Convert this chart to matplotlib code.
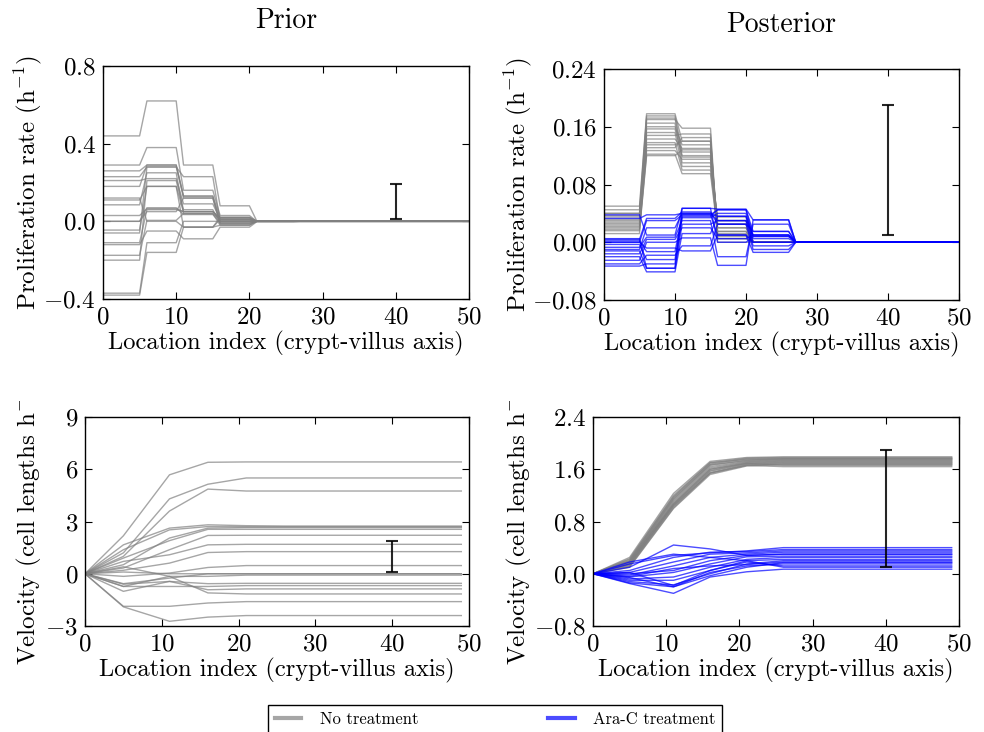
import numpy as np
import matplotlib.pyplot as plt
from matplotlib.lines import Line2D
from matplotlib.transforms import Bbox, TransformedBbox

plt.rcParams['font.family'] = 'serif'
plt.rcParams['font.serif'] = ['cmr10']
plt.rcParams['mathtext.fontset'] = 'cm'
plt.rcParams['axes.formatter.use_mathtext'] = True
plt.rcParams['axes.unicode_minus'] = True

# location index where the piecewise-constant proliferation blocks start / end
block_x = [0, 5, 6, 10, 11, 15, 16, 20, 21, 26, 27, 50]
# velocity knots along the axis
vel_x = [0, 5, 11, 16, 21, 26, 49]

# prior proliferation, one row = block values for one sample
prior_prolif = [
    [0.44, 0.62, 0.29, 0.08, 0.002],
    [0.29, 0.38, 0.16, 0.03, 0.0],
    [0.26, 0.29, 0.13, 0.02, 0.0],
    [0.23, 0.28, 0.23, 0.0, 0.001],
    [0.21, 0.22, 0.09, 0.01, 0.0],
    [0.18, 0.29, 0.12, -0.01, 0.0],
    [0.11, 0.18, 0.05, 0.02, 0.0],
    [0.085, 0.25, 0.04, -0.02, 0.0],
    [0.03, 0.065, 0.05, 0.015, 0.0],
    [0.0, 0.07, 0.035, -0.005, 0.0],
    [-0.045, 0.18, -0.03, -0.02, 0.0],
    [-0.11, 0.06, 0.05, 0.005, 0.0],
    [-0.12, -0.05, -0.09, -0.03, -0.002],
    [-0.175, 0.005, 0.04, 0.01, 0.0],
    [-0.2, 0.21, 0.06, -0.01, 0.0],
    [-0.37, -0.11, 0.0, 0.0, 0.0],
    [-0.38, -0.16, -0.03, 0.01, 0.0],
    [0.0, 0.05, 0.12, 0.0, 0.0],
    [0.12, 0.0, -0.03, 0.02, 0.0],
    [-0.06, 0.28, 0.13, -0.015, 0.0],
]

prior_vel = [
    [0, 2.18, 5.68, 6.40, 6.42, 6.42, 6.42],
    [0, 1.20, 4.30, 5.14, 5.50, 5.50, 5.50],
    [0, 1.00, 3.60, 4.86, 4.75, 4.75, 4.75],
    [0, 1.66, 2.62, 2.81, 2.76, 2.74, 2.74],
    [0, 1.38, 2.52, 2.71, 2.70, 2.70, 2.70],
    [0, 0.52, 2.05, 2.62, 2.65, 2.65, 2.65],
    [0, 0.90, 1.90, 2.55, 2.55, 2.55, 2.55],
    [0, 0.33, 1.38, 2.20, 2.21, 2.21, 2.21],
    [0, 0.71, 1.09, 1.66, 1.69, 1.69, 1.69],
    [0, 0.20, 0.61, 1.22, 1.27, 1.27, 1.27],
    [0, -0.15, 0.04, 0.36, 0.47, 0.47, 0.47],
    [0, -0.57, -0.25, 0.00, 0.00, 0.00, 0.00],
    [0, 0.10, 0.00, 0.00, 0.00, 0.00, 0.00],
    [0, -0.73, -0.15, -0.15, -0.08, -0.08, -0.08],
    [0, -0.60, -0.44, -0.57, -0.55, -0.55, -0.55],
    [0, -0.73, -0.73, -0.73, -0.68, -0.68, -0.68],
    [0, -1.01, -0.44, -0.92, -0.87, -0.87, -0.87],
    [0, 0.40, -0.15, -1.10, -1.16, -1.16, -1.16],
    [0, -1.87, -1.87, -1.68, -1.60, -1.60, -1.60],
    [0, -1.90, -2.73, -2.49, -2.40, -2.40, -2.40],
]

post_prolif_none = [
    [0.050, 0.178, 0.140, 0.020, 0],
    [0.045, 0.175, 0.125, 0.010, 0],
    [0.040, 0.170, 0.158, 0.005, 0],
    [0.037, 0.165, 0.110, 0.030, 0],
    [0.035, 0.160, 0.135, 0.015, 0],
    [0.032, 0.157, 0.120, 0.025, 0],
    [0.030, 0.152, 0.105, 0.035, 0],
    [0.028, 0.148, 0.150, 0.000, 0],
    [0.026, 0.143, 0.130, 0.010, 0],
    [0.024, 0.138, 0.100, 0.020, 0],
    [0.022, 0.131, 0.145, 0.005, 0],
    [0.020, 0.127, 0.115, 0.030, 0],
    [0.018, 0.122, 0.095, 0.015, 0],
    [0.016, 0.120, 0.128, 0.025, 0],
    [0.012, 0.172, 0.118, 0.008, 0],
    [0.040, 0.135, 0.140, 0.012, 0],
]

post_prolif_arac = [
    [0.038, 0.010, 0.047, 0.046, 0.031],
    [0.033, 0.038, 0.040, 0.036, 0.010],
    [0.004, 0.033, 0.042, 0.025, 0.015],
    [0.002, -0.013, 0.036, 0.045, 0.008],
    [0.000, 0.030, 0.038, 0.010, 0.000],
    [-0.003, -0.024, 0.034, 0.040, 0.005],
    [-0.007, 0.007, 0.030, -0.020, 0.025],
    [-0.012, -0.036, 0.025, 0.030, -0.005],
    [-0.016, 0.004, 0.020, 0.005, 0.010],
    [-0.020, -0.041, 0.012, 0.036, 0.000],
    [-0.025, 0.000, 0.006, -0.032, 0.031],
    [-0.030, -0.018, -0.005, 0.025, -0.010],
    [-0.033, -0.030, 0.047, 0.000, 0.008],
    [0.000, -0.008, -0.012, 0.010, -0.014],
    [-0.010, 0.020, 0.040, 0.030, 0.010],
    [0.005, -0.036, 0.038, 0.045, 0.015],
]

post_vel_none = [
    [0, 0.25, 1.23, 1.72, 1.78, 1.79, 1.79],
    [0, 0.22, 1.20, 1.70, 1.77, 1.78, 1.78],
    [0, 0.20, 1.17, 1.68, 1.76, 1.77, 1.77],
    [0, 0.18, 1.14, 1.66, 1.74, 1.76, 1.76],
    [0, 0.17, 1.12, 1.64, 1.72, 1.74, 1.74],
    [0, 0.16, 1.10, 1.62, 1.71, 1.73, 1.73],
    [0, 0.15, 1.08, 1.60, 1.70, 1.72, 1.72],
    [0, 0.14, 1.06, 1.58, 1.69, 1.71, 1.71],
    [0, 0.13, 1.05, 1.57, 1.68, 1.70, 1.70],
    [0, 0.12, 1.03, 1.55, 1.67, 1.69, 1.69],
    [0, 0.11, 1.01, 1.54, 1.66, 1.68, 1.68],
    [0, 0.10, 1.00, 1.52, 1.65, 1.67, 1.67],
    [0, 0.20, 1.15, 1.67, 1.73, 1.75, 1.75],
    [0, 0.23, 1.18, 1.70, 1.75, 1.76, 1.76],
    [0, 0.19, 1.07, 1.60, 1.69, 1.66, 1.66],
    [0, 0.15, 1.04, 1.54, 1.66, 1.64, 1.64],
]

post_vel_arac = [
    [0, 0.10, 0.44, 0.38, 0.28, 0.30, 0.30],
    [0, 0.15, 0.28, 0.32, 0.35, 0.40, 0.40],
    [0, 0.05, 0.25, 0.33, 0.34, 0.37, 0.37],
    [0, 0.02, 0.18, 0.30, 0.32, 0.35, 0.35],
    [0, -0.02, 0.12, 0.25, 0.30, 0.33, 0.33],
    [0, 0.00, 0.05, 0.20, 0.28, 0.30, 0.30],
    [0, -0.05, 0.02, 0.15, 0.26, 0.27, 0.27],
    [0, -0.08, -0.05, 0.10, 0.22, 0.25, 0.25],
    [0, -0.10, -0.10, 0.05, 0.20, 0.22, 0.22],
    [0, -0.12, -0.17, 0.00, 0.15, 0.20, 0.20],
    [0, -0.14, -0.20, -0.03, 0.10, 0.17, 0.17],
    [0, -0.15, -0.30, -0.05, 0.03, 0.07, 0.07],
    [0, -0.06, -0.20, 0.02, 0.12, 0.15, 0.15],
    [0, 0.02, -0.18, 0.05, 0.18, 0.12, 0.12],
    [0, 0.18, 0.30, 0.25, 0.20, 0.10, 0.10],
    [0, -0.04, 0.08, 0.12, 0.14, 0.18, 0.18],
]

# error bars drawn at location 40 (low, high) per panel
err_x = 40
err_prolif = [0.01, 0.19]
err_vel = [0.1, 1.9]

col_none = 'gray'
col_arac = 'blue'
line_alpha = 0.7


def steps(b):
    return [b[0], b[0], b[1], b[1], b[2], b[2], b[3], b[3], b[4], b[4], 0, 0]


fig = plt.figure(figsize=(9.84, 7.32), dpi=100)
W, H = 984.0, 732.0

def add_ax(l, t, r, b):
    return fig.add_axes([l / W, 1 - b / H, (r - l) / W, (b - t) / H])

ax_tl = add_ax(103, 66, 469, 299)
ax_tr = add_ax(604, 69, 959, 300)
ax_bl = add_ax(85, 417, 469, 626)
ax_br = add_ax(593, 417, 959, 626)

for row in prior_prolif:
    ax_tl.plot(block_x, steps(row), color=col_none, alpha=line_alpha, lw=1)
for row in post_prolif_none:
    ax_tr.plot(block_x, steps(row), color=col_none, alpha=line_alpha, lw=1)
for row in post_prolif_arac:
    ax_tr.plot(block_x, steps(row), color=col_arac, alpha=line_alpha, lw=1)
for row in prior_vel:
    ax_bl.plot(vel_x, row, color=col_none, alpha=line_alpha, lw=1)
for row in post_vel_none:
    ax_br.plot(vel_x, row, color=col_none, alpha=line_alpha, lw=1)
for row in post_vel_arac:
    ax_br.plot(vel_x, row, color=col_arac, alpha=line_alpha, lw=1)

for ax, e in [(ax_tl, err_prolif), (ax_tr, err_prolif), (ax_bl, err_vel), (ax_br, err_vel)]:
    mid = (e[0] + e[1]) / 2
    ax.errorbar([err_x], [mid], yerr=[(e[1] - e[0]) / 2], color='k', lw=1.5,
                capsize=4, capthick=1.5, alpha=0.85)

ax_tl.set_ylim(-0.4, 0.8)
ax_tl.set_yticks([-0.4, 0.0, 0.4, 0.8])
ax_tr.set_ylim(-0.08, 0.24)
ax_tr.set_yticks([-0.08, 0.0, 0.08, 0.16, 0.24])
ax_bl.set_ylim(-3, 9)
ax_bl.set_yticks([-3, 0, 3, 6, 9])
ax_br.set_ylim(-0.8, 2.4)
ax_br.set_yticks([-0.8, 0.0, 0.8, 1.6, 2.4])

fs = 17.6
for ax in [ax_tl, ax_tr, ax_bl, ax_br]:
    ax.set_xlim(0, 50)
    ax.set_xticks([0, 10, 20, 30, 40, 50])
    ax.tick_params(direction='in', top=True, right=True, length=5, labelsize=18, pad=5)
    ax.set_xlabel('Location index (crypt-villus axis)', fontsize=fs, labelpad=2)
    for s in ax.spines.values():
        s.set_linewidth(1.0)

ax_tl.set_ylabel('Proliferation rate (h$^{-1}$)', fontsize=18)
ax_tr.set_ylabel('Proliferation rate (h$^{-1}$)', fontsize=18)
lab_bl = ax_bl.set_ylabel('Velocity (cell lengths h$^{-1}$)', fontsize=18)
lab_br = ax_br.set_ylabel('Velocity (cell lengths h$^{-1}$)', fontsize=18)
ax_tl.yaxis.set_label_coords(-0.161, 0.5)
ax_tr.yaxis.set_label_coords(-0.197, 0.5)
ax_bl.yaxis.set_label_coords(-0.107, 0.5)
ax_br.yaxis.set_label_coords(-0.161, 0.5)

ax_tl.set_title('Prior', fontsize=20, pad=27)
ax_tr.set_title('Posterior', fontsize=20, pad=27)

# the lower labels are cut at the top in the reference
clip = TransformedBbox(Bbox([[0, 0], [1, 1 - 401 / H]]), fig.transFigure)
for lab in (lab_bl, lab_br):
    lab.set_clip_box(clip)
    lab.set_clip_on(True)

handles = [Line2D([], [], color=col_none, alpha=line_alpha, lw=3),
           Line2D([], [], color=col_arac, alpha=line_alpha, lw=3)]
leg = fig.legend(handles, ['No treatment', 'Ara-C treatment'], loc='upper center',
                 bbox_to_anchor=(268 / W, 0.0, 454 / W, 1 - 705 / H), mode='expand',
                 ncol=2, fontsize=12, borderaxespad=0, fancybox=False,
                 framealpha=1, edgecolor='black', handlelength=1.6, handletextpad=1.1)
leg.get_frame().set_linewidth(1.0)

fig.savefig('out.png', dpi=100)
